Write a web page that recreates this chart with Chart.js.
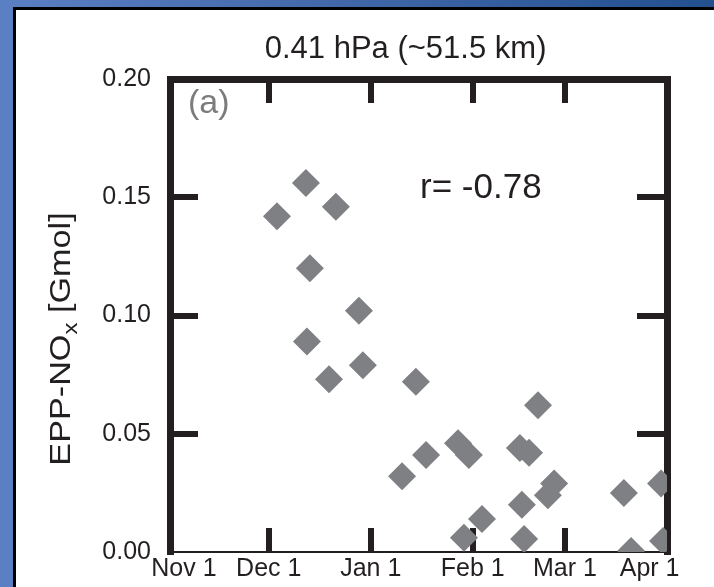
<!DOCTYPE html>
<html>
<head>
<meta charset="utf-8">
<script src="https://cdn.jsdelivr.net/npm/chart.js@4.4.1/dist/chart.umd.min.js"></script>
<style>
  html, body { margin: 0; padding: 0; }
  body {
    width: 714px; height: 587px; overflow: hidden; position: relative;
    background: linear-gradient(to right, #5a7fc2 0%, #4369ab 45%, #23508f 100%);
  }
  #panel {
    position: absolute; left: 13px; top: 7px; width: 720px; height: 600px;
    background: #fff; border: 3px solid #000; box-sizing: border-box;
  }
  #wrap { position: absolute; left: 0; top: 0; width: 714px; height: 587px; }
</style>
</head>
<body>
<div id="panel"></div>
<div id="wrap"><canvas id="chart"></canvas></div>
<script>
// jours comptés depuis le 1er novembre
const days = [32.5, 41.3, 50.4, 42.5, 57.4, 41.6, 58.6, 48.3, 74.7, 111.8, 77.8, 70.5, 87.5, 90.8,
              106.3, 109.1, 106.9, 116.7, 114.8, 94.8, 89.3, 107.6, 137.9, 149.2, 140.1, 149.8];
const nox = [0.142, 0.156, 0.146, 0.120, 0.102, 0.089, 0.079, 0.073, 0.072, 0.062, 0.041, 0.032, 0.046, 0.041,
             0.044, 0.042, 0.020, 0.029, 0.024, 0.014, 0.006, 0.0055, 0.025, 0.029, 0.0004, 0.0047];

const tickDays = [0, 30, 61, 92, 120, 151];
const tickLabels = ['Nov 1', 'Dec 1', 'Jan 1', 'Feb 1', 'Mar 1', 'Apr 1'];
const yTicks = [0, 0.05, 0.10, 0.15, 0.20];

const FONT = '"Liberation Sans", Arial, Helvetica, sans-serif';
const INK = '#231f20';

// marques seulement entre les extrémités (les extrémités sont sur le cadre)
const innerTick = (ctx) => (ctx.index === 0 || ctx.index === ctx.scale.ticks.length - 1) ? 'rgba(0,0,0,0)' : INK;

// taille fixe de chaque axe, sans marge de débordement des étiquettes
const fixSize = (w, h) => (s) => {
  if (w !== null) s.width = w;
  if (h !== null) s.height = h;
  s.paddingTop = s.paddingBottom = s.paddingLeft = s.paddingRight = 0;
};

// Texte libre : titre de l'axe y (avec indice), (a) et r
const extraText = {
  id: 'extraText',
  afterDraw(chart) {
    const { ctx, chartArea } = chart;
    ctx.save();
    ctx.fillStyle = INK;
    ctx.textBaseline = 'middle';

    // EPP-NOx [Gmol]
    ctx.save();
    ctx.translate(62, 339);
    ctx.rotate(-Math.PI / 2);
    ctx.scale(1.14, 1);
    const main = '30px ' + FONT, sub = '21px ' + FONT;
    ctx.font = main;
    const w1 = ctx.measureText('EPP-NO').width;
    const w3 = ctx.measureText(' [Gmol]').width;
    ctx.font = sub;
    const w2 = ctx.measureText('x').width;
    let x = -(w1 + w2 + w3) / 2;
    ctx.font = main; ctx.fillText('EPP-NO', x, 0); x += w1;
    ctx.font = sub; ctx.fillText('x', x, 9); x += w2;
    ctx.font = main; ctx.fillText(' [Gmol]', x, 0);
    ctx.restore();

    ctx.textAlign = 'left';
    ctx.fillStyle = '#7c7c7e';
    ctx.font = '34px ' + FONT;
    ctx.fillText('(a)', chartArea.left + 18, chartArea.top + 25);

    ctx.fillStyle = INK;
    ctx.font = '35px ' + FONT;
    ctx.fillText('r= -0.78', chartArea.left + 250, chartArea.top + 109);
    ctx.restore();
  }
};

const lastTick = tickLabels.length - 1;

new Chart(document.getElementById('chart'), {
  type: 'scatter',
  data: {
    datasets: [{
      data: days.map((d, i) => ({ x: d, y: nox[i] })),
      pointStyle: 'rectRot',
      pointRadius: 14,
      pointHoverRadius: 14,
      borderWidth: 0,
      backgroundColor: '#7f8084',
      clip: 0
    }]
  },
  options: {
    responsive: true,
    maintainAspectRatio: false,
    animation: false,
    events: [],
    layout: { padding: 0 },
    plugins: { legend: { display: false }, tooltip: { enabled: false } },
    scales: {
      x: {
        type: 'linear', position: 'bottom', min: 0, max: 151, z: 1,
        afterBuildTicks: s => { s.ticks = tickDays.map(v => ({ value: v })); },
        afterFit: fixSize(null, 35),
        ticks: {
          // les étiquettes des bouts sont poussées vers l'intérieur
          callback: (v, i) => i === 0 ? '    ' + tickLabels[i] : i === lastTick ? tickLabels[i] + '     ' : tickLabels[i],
          autoSkip: false, maxRotation: 0,
          padding: 26, color: INK, font: { family: FONT, size: 25 }
        },
        grid: { drawOnChartArea: false, tickLength: -24, lineWidth: 6, color: innerTick },
        border: { color: INK, width: 2 }
      },
      x2: {
        type: 'linear', position: 'top', min: 0, max: 151, z: 1,
        afterBuildTicks: s => { s.ticks = tickDays.map(v => ({ value: v })); },
        afterFit: fixSize(null, 79),
        ticks: { display: false },
        title: {
          // espaces finaux : le titre est un peu à gauche du centre
          display: true, text: '0.41 hPa (~51.5 km)   ', color: INK,
          font: { family: FONT, size: 31 }, padding: { top: 31, bottom: 0 }
        },
        grid: { drawOnChartArea: false, tickLength: -24, lineWidth: 6, color: innerTick },
        border: { color: INK, width: 7 }
      },
      y: {
        type: 'linear', position: 'left', min: 0, max: 0.2, z: 1,
        afterBuildTicks: s => { s.ticks = yTicks.map(v => ({ value: v })); },
        afterFit: fixSize(170, null),
        ticks: {
          callback: v => v.toFixed(2),
          padding: 47, color: INK, font: { family: FONT, size: 25 }
        },
        grid: { drawOnChartArea: false, tickLength: -28, lineWidth: 6, color: innerTick },
        border: { color: INK, width: 7 }
      },
      y2: {
        type: 'linear', position: 'right', min: 0, max: 0.2, z: 1,
        afterBuildTicks: s => { s.ticks = yTicks.map(v => ({ value: v })); },
        afterFit: fixSize(47, null),
        ticks: { display: false },
        grid: { drawOnChartArea: false, tickLength: -30, lineWidth: 6, color: innerTick },
        border: { color: INK, width: 7 }
      }
    }
  },
  plugins: [extraText]
});
</script>
</body>
</html>
